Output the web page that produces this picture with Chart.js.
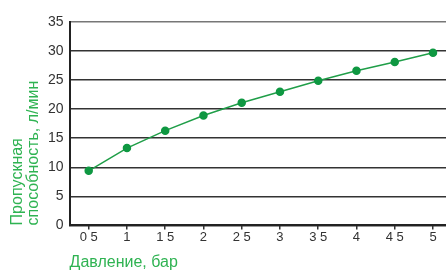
<!DOCTYPE html>
<html>
<head>
<meta charset="utf-8">
<script src="https://cdn.jsdelivr.net/npm/chart.js@4"></script>
<style>
  html, body { margin: 0; padding: 0; background: #fff; }
  #wrap { width: 446px; height: 271px; }
</style>
</head>
<body>
<div id="wrap"><canvas id="flowChart"></canvas></div>
<script>
// давление, бар
const pressures = [0.5, 1, 1.5, 2, 2.5, 3, 3.5, 4, 4.5, 5];
const pressureLabels = ['0 5', '1', '1 5', '2', '2 5', '3', '3 5', '4', '4 5', '5'];
// пропускная способность, л/мин
const flowRates = [9.4, 13.3, 16.3, 18.9, 21.1, 23.0, 24.9, 26.6, 28.1, 29.7];
const yTicks = [0, 5, 10, 15, 20, 25, 30, 35];

const green = '#1f9e48';
const titleGreen = '#2fb352';
const font = "'Liberation Sans', Arial, sans-serif";

const points = pressures.map((p, i) => ({ x: p, y: flowRates[i] }));

new Chart(document.getElementById('flowChart'), {
    type: 'line',
    data: {
        datasets: [{
            data: points,
            borderColor: green,
            borderWidth: 1.5,
            pointBackgroundColor: '#0f9842',
            pointBorderColor: '#0f9842',
            pointRadius: 3.5,
            tension: 0,
            fill: false
        }]
    },
    options: {
        responsive: true,
        maintainAspectRatio: false,
        animation: false,
        layout: { autoPadding: false, padding: { top: 22, right: 0, left: 10, bottom: 0 } },
        plugins: { legend: { display: false }, tooltip: { enabled: false } },
        scales: {
            x: {
                type: 'linear',
                min: 0.25,
                max: 5.17,
                afterBuildTicks: (axis) => { axis.ticks = pressures.map(v => ({ value: v })); },
                ticks: {
                    color: '#333',
                    font: { family: font, size: 13 },
                    padding: 0,
                    maxRotation: 0,
                    callback: (v) => pressureLabels[pressures.indexOf(v)]
                },
                grid: { drawOnChartArea: false, drawTicks: true, tickLength: 4, color: '#333', lineWidth: 1.5 },
                border: { display: true, color: '#222', width: 2 },
                title: {
                    display: true,
                    text: 'Давление, бар',
                    color: titleGreen,
                    align: 'start',
                    font: { family: font, size: 16, lineHeight: 1.0 },
                    padding: { top: 10, bottom: 0 }
                }
            },
            y: {
                min: 0,
                max: 35,
                afterBuildTicks: (axis) => { axis.ticks = yTicks.map(v => ({ value: v })); },
                ticks: {
                    color: '#333',
                    font: { family: font, size: 14 },
                    padding: 6
                },
                grid: {
                    drawTicks: false,
                    lineWidth: 1.5,
                    color: (ctx) => ctx.tick && ctx.tick.value === 35 ? '#777' : '#333'
                },
                border: { display: true, color: '#222', width: 2 },
                title: {
                    display: true,
                    text: ['Пропускная', 'способность, л/мин'],
                    color: titleGreen,
                    align: 'start',
                    font: { family: font, size: 16, lineHeight: 1.0 },
                    padding: { top: 0, bottom: 0 }
                }
            }
        }
    }
});
</script>
</body>
</html>
